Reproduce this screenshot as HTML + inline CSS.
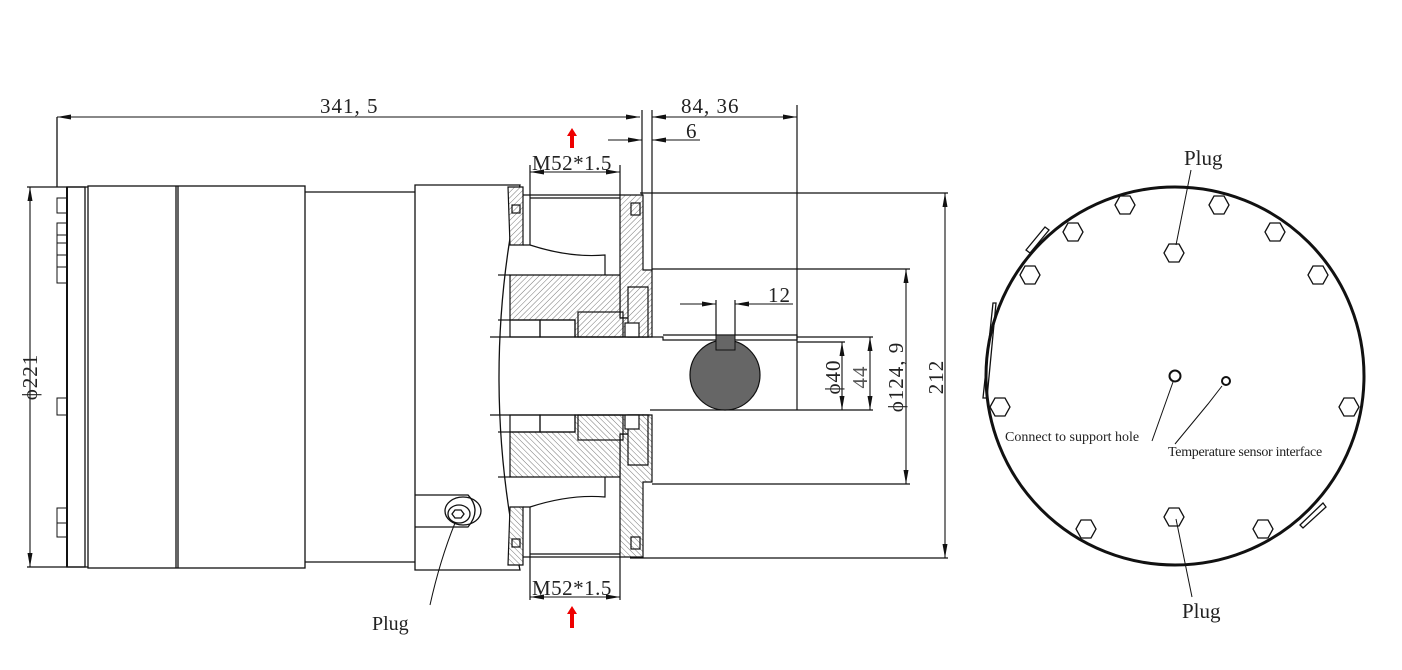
<!DOCTYPE html>
<html><head><meta charset="utf-8"><style>
html,body{margin:0;padding:0;background:#fff;}
svg{display:block;}
.t{font-family:"Liberation Serif","Noto Serif CJK SC",serif;fill:#222;}
</style></head><body>
<svg width="1402" height="670" viewBox="0 0 1402 670" xmlns="http://www.w3.org/2000/svg">
<defs>
<pattern id="h" patternUnits="userSpaceOnUse" width="4" height="4" patternTransform="rotate(45)">
<rect width="4" height="4" fill="#fff"/><line x1="0" y1="0" x2="0" y2="4" stroke="#777" stroke-width="1"/>
</pattern>
<marker id="a" viewBox="0 0 14 6" refX="14" refY="3" markerWidth="14" markerHeight="6" orient="auto-start-reverse" markerUnits="userSpaceOnUse"><path d="M0,0.5 L14,3 L0,5.5 z" fill="#111"/></marker>
<path id="hx" d="M-10,0 L-5,-9 L5,-9 L10,0 L5,9 L-5,9 z"/>
<g id="half" stroke="#111" stroke-width="1.2" fill="none">
 <path d="M508,187 L523,187 L523,245 L510,245 Q509,215 508,187 z" fill="url(#h)"/>
 <rect x="512" y="205" width="8" height="8"/>
 <path d="M620,195 L643,195 L643,270 L652,270 L652,337 L643,337 L643,318 L620,318 z" fill="url(#h)"/>
 <rect x="631" y="203" width="9" height="12"/>
 <path d="M510,275 L620,275 L620,318 L643,318 L643,337 L575,337 L575,320 L510,320 z" fill="url(#h)"/>
 <path d="M628,287 L648,287 L648,337 L628,337 z" fill="url(#h)"/>
 <rect x="625" y="323" width="14" height="14" fill="#fff"/>
 <rect x="510" y="320" width="30" height="17"/>
 <rect x="540" y="320" width="35" height="17"/>
 <rect x="578" y="312" width="45" height="25"/>
 <path d="M523,245 L530,245 Q570,258 605,255 L605,275" />
 <line x1="530" y1="195" x2="530" y2="245"/>
 <line x1="523" y1="195" x2="620" y2="195"/>
 <line x1="530" y1="198" x2="620" y2="198"/>
 <line x1="498" y1="275" x2="510" y2="275"/>
 <line x1="498" y1="320" x2="510" y2="320"/>
 <line x1="490" y1="337" x2="650" y2="337"/>
</g>
</defs>

<g stroke="#111" stroke-width="1.3" fill="none">
 <line x1="27" y1="187" x2="88" y2="187"/>
 <line x1="27" y1="567" x2="88" y2="567"/>
 <line x1="57" y1="117" x2="57" y2="187"/>
 <rect x="67" y="187" width="18" height="380"/>
 <line x1="67" y1="187" x2="67" y2="567" stroke-width="2"/>
 <rect x="88" y="186" width="217" height="382"/>
 <line x1="176" y1="186" x2="176" y2="568"/>
 <line x1="178" y1="186" x2="178" y2="568"/>
 <path d="M305,192 L415,192 M305,562 L415,562"/>
 <path d="M415,185 L520,185 Q478,377 520,570 L415,570 z"/>
 <g stroke-width="1">
  <rect x="57" y="198" width="10" height="15"/><rect x="57" y="223" width="10" height="12"/><rect x="57" y="235" width="10" height="8"/>
  <rect x="57" y="243" width="10" height="12"/><rect x="57" y="255" width="10" height="12"/><rect x="57" y="267" width="10" height="16"/>
  <rect x="57" y="398" width="10" height="17"/><rect x="57" y="508" width="10" height="15"/><rect x="57" y="523" width="10" height="14"/>
 </g>
 <path d="M415,495 L468,495 Q482,510 468,527 L415,527"/>
 <ellipse cx="463" cy="511" rx="18" ry="14"/>
 <ellipse cx="459" cy="514" rx="11" ry="9"/>
 <path d="M455,510 L461,510 L464,514 L461,518 L455,518 L452,514 z"/>
 <path d="M455,523 Q440,560 430,605" stroke-width="1"/>
</g>
<text class="t" x="372" y="630" font-size="20">Plug</text>

<use href="#half"/>
<use href="#half" transform="translate(0,752) scale(1,-1)"/>
<g stroke="#111" stroke-width="1.2" fill="none">
 <path d="M650,337 L663,337 L663,340 L797,340"/>
 <path d="M663,335 L797,335 L797,340"/>
 <line x1="650" y1="410" x2="797" y2="410"/>
 <line x1="530" y1="165" x2="530" y2="195"/><line x1="620" y1="165" x2="620" y2="195"/>
 <line x1="530" y1="557" x2="530" y2="600"/><line x1="620" y1="557" x2="620" y2="600"/>
 <line x1="640" y1="193" x2="948" y2="193"/>
 <line x1="630" y1="558" x2="948" y2="558"/>
 <line x1="652" y1="269" x2="910" y2="269"/>
 <line x1="652" y1="484" x2="910" y2="484"/>
 <line x1="797" y1="337" x2="873" y2="337"/>
 <line x1="797" y1="342" x2="845" y2="342"/>
 <line x1="797" y1="410" x2="873" y2="410"/>
 <line x1="642" y1="110" x2="642" y2="195"/>
 <line x1="652" y1="110" x2="652" y2="270"/>
 <line x1="797" y1="105" x2="797" y2="410"/>
 <line x1="716" y1="300" x2="716" y2="335"/><line x1="735" y1="300" x2="735" y2="335"/>
</g>
<circle cx="725" cy="375" r="35" fill="#666" stroke="#111" stroke-width="1.2"/>
<rect x="716" y="335" width="19" height="15" fill="#666" stroke="#111"/>

<g stroke="#111" stroke-width="1.1" fill="none">
 <line x1="57" y1="117" x2="640" y2="117" marker-start="url(#a)" marker-end="url(#a)"/>
 <line x1="652" y1="117" x2="797" y2="117" marker-start="url(#a)" marker-end="url(#a)"/>
 <line x1="608" y1="140" x2="642" y2="140" marker-end="url(#a)"/>
 <line x1="700" y1="140" x2="652" y2="140" marker-end="url(#a)"/>
 <line x1="530" y1="172" x2="620" y2="172" marker-start="url(#a)" marker-end="url(#a)"/>
 <line x1="530" y1="597" x2="620" y2="597" marker-start="url(#a)" marker-end="url(#a)"/>
 <line x1="30" y1="187" x2="30" y2="567" marker-start="url(#a)" marker-end="url(#a)"/>
 <line x1="945" y1="193" x2="945" y2="558" marker-start="url(#a)" marker-end="url(#a)"/>
 <line x1="906" y1="269" x2="906" y2="484" marker-start="url(#a)" marker-end="url(#a)"/>
 <line x1="870" y1="337" x2="870" y2="410" marker-start="url(#a)" marker-end="url(#a)"/>
 <line x1="842" y1="342" x2="842" y2="410" marker-start="url(#a)" marker-end="url(#a)"/>
 <line x1="680" y1="304" x2="716" y2="304" marker-end="url(#a)"/>
 <line x1="793" y1="304" x2="735" y2="304" marker-end="url(#a)"/>
</g>
<g class="t" font-size="21" letter-spacing="1">
 <text x="320" y="113">341, 5</text>
 <text x="681" y="113">84, 36</text>
 <text x="686" y="138">6</text>
 <text x="532" y="170" letter-spacing="0.5">M52*1.5</text>
 <text x="532" y="595" letter-spacing="0.5">M52*1.5</text>
 <text x="768" y="302">12</text>
 <text transform="translate(37,377) rotate(-90)" text-anchor="middle">ϕ221</text>
 <text transform="translate(943,377) rotate(-90)" text-anchor="middle">212</text>
 <text transform="translate(903,377) rotate(-90)" text-anchor="middle">ϕ124, 9</text>
 <text transform="translate(867,377) rotate(-90)" text-anchor="middle" fill="#555">44</text>
 <text transform="translate(840,377) rotate(-90)" text-anchor="middle">ϕ40</text>
</g>
<path d="M572,128 L577,136 L574,136 L574,148 L570,148 L570,136 L567,136 z" fill="#e00"/>
<path d="M572,606 L577,614 L574,614 L574,628 L570,628 L570,614 L567,614 z" fill="#e00"/>

<g stroke="#111" fill="none">
 <circle cx="1175" cy="376" r="189" stroke-width="3"/>
 <g stroke-width="1.3">
  <use href="#hx" x="1125" y="205"/><use href="#hx" x="1219" y="205"/>
  <use href="#hx" x="1073" y="232"/><use href="#hx" x="1275" y="232"/>
  <use href="#hx" x="1174" y="253"/>
  <use href="#hx" x="1030" y="275"/><use href="#hx" x="1318" y="275"/>
  <use href="#hx" x="1000" y="407"/><use href="#hx" x="1349" y="407"/>
  <use href="#hx" x="1174" y="517"/>
  <use href="#hx" x="1086" y="529"/><use href="#hx" x="1263" y="529"/>
  <path d="M1026,250 L1045,227 L1049,230 L1030,253 z"/>
  <path d="M993,303 L983,398 L987,398 L996,303 z"/>
  <path d="M1300,525 L1323,503 L1326,507 L1303,528 z"/>
  <circle cx="1175" cy="376" r="5.5" stroke-width="2"/>
  <circle cx="1226" cy="381" r="4" stroke-width="2"/>
 </g>
 <g stroke-width="1">
  <line x1="1191" y1="170" x2="1176" y2="245"/>
  <line x1="1176" y1="519" x2="1192" y2="597"/>
  <path d="M1152,441 L1173,382"/>
  <path d="M1175,444 L1208,404 L1222,386"/>
 </g>
</g>
<g class="t">
 <text x="1184" y="165" font-size="21">Plug</text>
 <text x="1182" y="618" font-size="21">Plug</text>
 <text x="1005" y="441" font-size="14">Connect to support hole</text>
 <text x="1168" y="456" font-size="14" letter-spacing="-0.3">Temperature sensor interface</text>
</g>
</svg>
</body></html>
